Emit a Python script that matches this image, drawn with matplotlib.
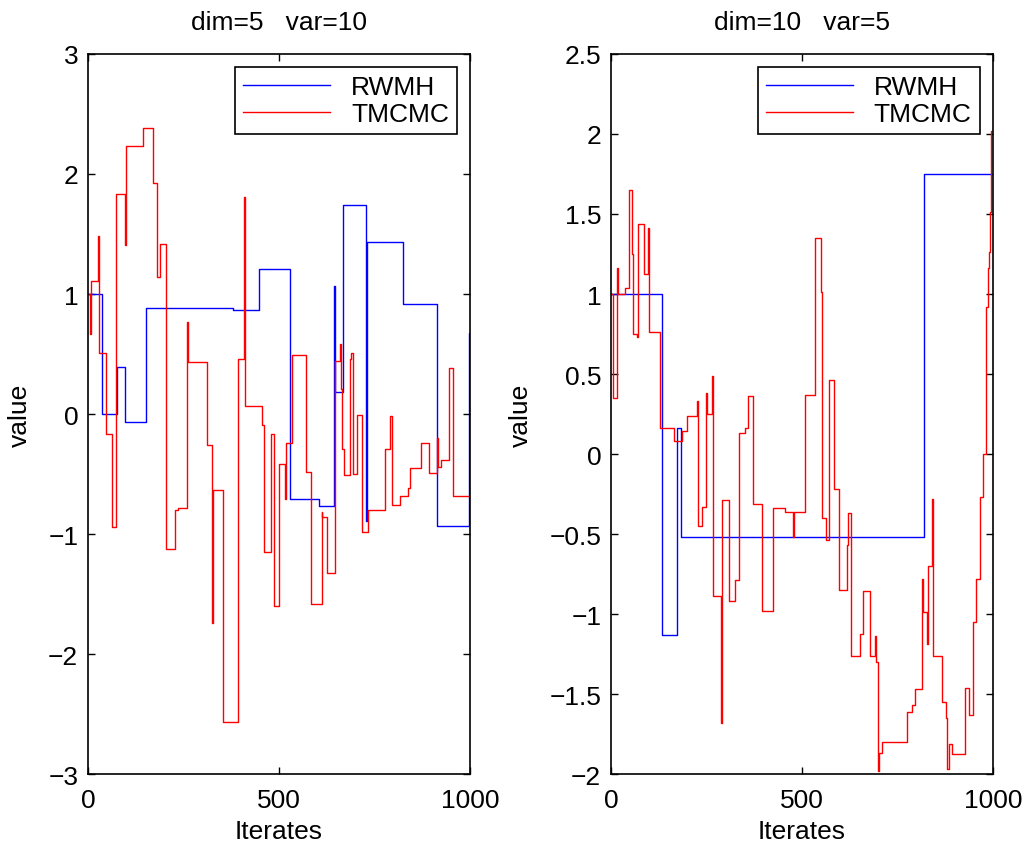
import matplotlib
matplotlib.use("Agg")
import matplotlib.pyplot as plt

plt.rcParams['font.family'] = ['Liberation Sans', 'DejaVu Sans']
plt.rcParams['font.size'] = 19
plt.rcParams['axes.unicode_minus'] = True

# ---- left panel: dim=5 var=10 ----
rw1_x = [0, 36, 77, 98, 153, 379, 449, 530, 605, 644, 646, 668, 729, 731, 825, 915, 998, 1000]
rw1_y = [1.0, 0.0, 0.39, -0.064, 0.883, 0.866, 1.21, -0.71, -0.77, 1.07, 0.18, 1.745, -0.89, 1.43,
         0.917, -0.93, 0.675, 0.675]

tm1_x = [0, 4, 7, 27, 29, 46, 62, 73, 97, 100, 145, 171, 181, 188, 204, 229, 236, 260, 262, 312,
         324, 326, 353, 394, 409, 411, 455, 461, 478, 488, 501, 516, 518, 533, 571, 583, 612, 614,
         625, 646, 660, 662, 665, 671, 685, 687, 690, 693, 705, 718, 732, 778, 790, 797, 818, 838,
         843, 873, 893, 914, 916, 925, 946, 955, 1000]
tm1_y = [1.0, 0.667, 1.11, 1.48, 0.51, -0.167, -0.94, 1.83, 1.41, 2.23, 2.38, 1.925, 1.14, 1.42,
         -1.125, -0.8, -0.78, 0.77, 0.43, -0.256, -1.74, -0.63, -2.57, 0.455, 1.81, 0.07, -0.09,
         -1.15, -0.17, -1.6, -0.42, -0.71, -0.24, 0.49, -0.48, -1.58, -0.82, -0.86, -1.325, 0.44,
         0.58, 0.21, -0.29, -0.51, -0.17, 0.46, 0.51, -0.5, -0.01, -0.98, -0.8, -0.29, -0.02,
         -0.76, -0.68, -0.62, -0.45, -0.24, -0.49, -0.2, -0.44, -0.38, 0.38, -0.68, -0.68]

# ---- right panel: dim=10 var=5 ----
rw2_x = [0, 133, 173, 183, 821, 1000]
rw2_y = [1.0, -1.13, 0.16, -0.517, 1.75, 1.75]

tm2_x = [0, 6, 17, 19, 37, 47, 54, 59, 67, 70, 87, 97, 100, 129, 164, 185, 199, 226, 228, 238,
         248, 251, 264, 267, 288, 291, 310, 324, 336, 352, 359, 373, 395, 424, 457, 477, 479, 507,
         509, 535, 549, 553, 564, 572, 583, 597, 617, 620, 629, 651, 661, 678, 692, 694, 700, 702,
         710, 776, 789, 795, 815, 817, 828, 830, 841, 843, 866, 877, 881, 885, 894, 927, 938, 948,
         957, 966, 975, 983, 987, 989, 992, 996, 1000]
tm2_y = [1.0, 0.35, 1.16, 1.0, 1.04, 1.65, 1.25, 0.75, 0.73, 1.44, 1.125, 1.41, 0.765, 0.165,
         0.08, 0.146, 0.235, 0.33, -0.45, -0.33, 0.38, 0.25, 0.49, -0.885, -1.68, -0.29, -0.92,
         -0.79, 0.13, 0.16, 0.365, -0.31, -0.98, -0.34, -0.36, -0.52, -0.36, 0.16, 0.37, 1.35,
         1.01, -0.40, -0.54, 0.46, -0.22, -0.85, -0.57, -0.37, -1.26, -1.125, -0.854, -1.26,
         -1.14, -1.30, -1.98, -1.87, -1.80, -1.61, -1.57, -1.47, -0.78, -0.99, -1.19, -0.70,
         -0.28, -1.26, -1.55, -1.65, -1.97, -1.81, -1.875, -1.46, -1.63, -1.05, -0.78, -0.27,
         0.0, 0.92, 1.16, 1.26, 1.51, 2.02, 2.03]

panels = [
    ("dim=5   var=10", rw1_x, rw1_y, tm1_x, tm1_y, (-3, 3), [-3, -2, -1, 0, 1, 2, 3]),
    ("dim=10   var=5", rw2_x, rw2_y, tm2_x, tm2_y, (-2, 2.5),
     [-2, -1.5, -1, -0.5, 0, 0.5, 1, 1.5, 2, 2.5]),
]

fig = plt.figure(figsize=(10.32, 8.54), dpi=100)
lefts = [0.0853, 0.592]

for left, (title, rx, ry, tx, ty, ylim, yticks) in zip(lefts, panels):
    ax = fig.add_axes([left, 0.0925, 0.370, 0.8431])
    ax.plot(rx, ry, color='blue', lw=1.0, drawstyle='steps-post', label='RWMH')
    ax.plot(tx, ty, color='red', lw=1.0, drawstyle='steps-post', label='TMCMC')
    ax.set_xlim(0, 1000)
    ax.set_ylim(*ylim)
    ax.set_xticks([0, 500, 1000])
    ax.set_yticks(yticks)
    ax.set_yticklabels([('%g' % v).replace('-', '\u2212') for v in yticks])
    ax.tick_params(direction='in', length=5, width=1, top=True, right=True)
    ax.tick_params(axis='x', pad=10)
    ax.tick_params(axis='y', pad=7)
    for s in ax.spines.values():
        s.set_linewidth(1.2)
    ax.set_title(title, fontsize=19, pad=18)
    ax.set_xlabel('Iterates', labelpad=5)
    ax.set_ylabel('value', labelpad=12)
    leg = ax.legend(loc='upper right', fancybox=False, framealpha=1, edgecolor='black',
                    handlelength=3.3, borderaxespad=0.5, borderpad=0.3, labelspacing=0.1,
                    handletextpad=0.8)
    leg.get_frame().set_linewidth(1.2)

fig.savefig('out.png', dpi=100)
